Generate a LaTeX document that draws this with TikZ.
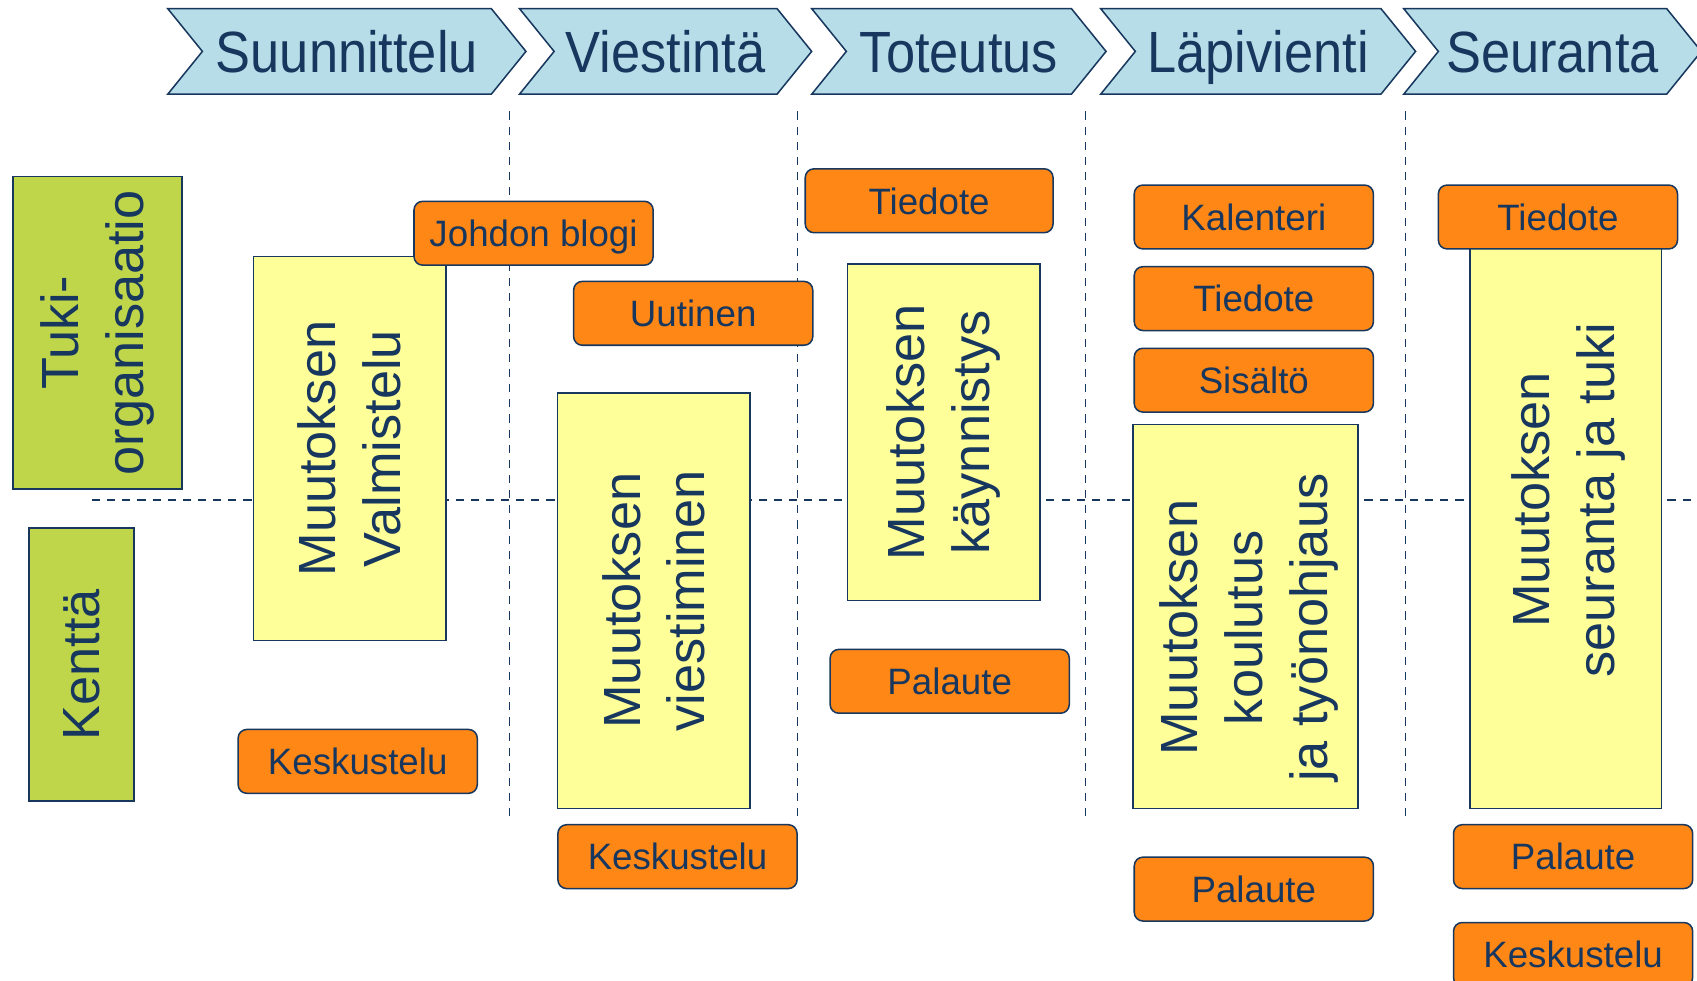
\documentclass[tikz,border=0pt]{standalone}
\usepackage{graphicx}
\usepackage{fontspec}
\setmainfont{Liberation Sans}
\usetikzlibrary{positioning,shapes.symbols}
\definecolor{navy}{HTML}{17375E}
\definecolor{chevblue}{HTML}{B7DEE8}
\definecolor{lanegreen}{HTML}{BFD54A}
\definecolor{paleyel}{HTML}{FFFF99}
\definecolor{orng}{HTML}{FF8716}
\newcommand{\narrow}[1]{\scalebox{0.9}[1]{#1}}
\tikzset{
  phase/.style={shape=signal, signal from=west, signal to=east, signal pointer angle=102, draw=navy, fill=chevblue, line width=0.8pt, minimum height=1.58cm, inner sep=0pt, text=navy, text height=22pt, text depth=0pt, font=\fontsize{30.6}{36}\selectfont},
  tier/.style={draw=navy, fill=lanegreen, line width=0.8pt, rotate=90, align=center, text=navy, inner sep=0pt, font=\fontsize{27.5}{34}\selectfont},
  task/.style={draw=navy, fill=paleyel, line width=0.8pt, rotate=90, align=center, text=navy, inner sep=0pt, font=\fontsize{27.5}{34}\selectfont},
  tool/.style={draw=navy, fill=orng, rounded corners=0.16cm, line width=0.8pt, minimum width=4.42cm, minimum height=1.18cm, inner sep=0pt, text=navy, text height=14pt, text depth=0pt, font=\fontsize{19.3}{23}\selectfont},
  divider/.style={draw=navy, line width=0.6pt, dash pattern=on 0.15cm off 0.13cm},
}
\begin{document}
\begin{tikzpicture}[x=0.02cm, y=-0.02cm]
\useasboundingbox (0,0) rectangle (1568,906);
\clip (0,0) rectangle (1568,906);
% phases
\node[phase, minimum width=6.62cm] (suun) at (320.5,47.5) {\narrow{Suunnittelu}};
\node[phase, minimum width=5.4cm] (viest) at (615,47.5) {\narrow{Viestintä}};
\node[phase, minimum width=5.44cm] (tot) at (886,47.5) {\narrow{Toteutus}};
\node[phase, minimum width=5.82cm] (lapi) at (1162.5,47.5) {\narrow{Läpivienti}};
\node[phase, minimum width=5.5cm] (seuranta) at (1434.5,47.5) {\narrow{Seuranta}};
% lane dividers
\draw[divider] (85,462) -- (1568,462);
\foreach \x in {471,737,1003,1299}
  \draw[divider] (\x,103) -- (\x,755);
% lanes
\node[tier, minimum width=5.78cm, minimum height=3.12cm] (tuki) at (90,307.5) {Tuki-\\organisaatio};
\node[tier, minimum width=5.04cm, minimum height=1.94cm] (kentta) at (75.5,614) {Kenttä};
% tasks
\node[task, minimum width=7.1cm, minimum height=3.56cm] (valm) at (323,414.5) {Muutoksen\\Valmistelu};
\node[task, minimum width=7.68cm, minimum height=3.56cm] (viestim) at (604,555) {Muutoksen\\viestiminen};
\node[task, minimum width=6.22cm, minimum height=3.56cm] (kayn) at (872,399.5) {Muutoksen\\käynnistys};
\node[task, minimum width=7.1cm, minimum height=4.16cm] (koul) at (1151,569.5) {};
\node[task, draw=none, fill=none] (koul-txt) at (1154,580) {Muutoksen\\koulutus\\ja työnohjaus};
\node[task, minimum width=10.44cm, minimum height=3.54cm] (seur) at (1446.5,486) {};
\node[task, draw=none, fill=none] (seur-txt) at (1449,462) {Muutoksen\\seuranta ja tuki};
% tools
\node[tool] (blogi) at (493,215.5) {Johdon blogi};
\node[tool] (uutinen) at (640.5,289.5) {Uutinen};
\node[tool] (kesk1) at (330.5,703.5) {Keskustelu};
\node[tool] (kesk2) at (626,791.5) {Keskustelu};
\node[tool, minimum width=4.58cm] (tied1) at (858.5,185.5) {Tiedote};
\node[tool] (pal1) at (877.5,629.5) {Palaute};
\node[tool] (kal) at (1158.5,200.5) {Kalenteri};
\node[tool, below=0.3cm of kal] (tied2) {Tiedote};
\node[tool, below=0.3cm of tied2] (sis) {Sisältö};
\node[tool] (pal2) at (1158.5,821.5) {Palaute};
\node[tool] (tied3) at (1439.5,200.5) {Tiedote};
\node[tool] (pal3) at (1453.5,791.5) {Palaute};
\node[tool, below=0.6cm of pal3] (kesk3) {Keskustelu};
\end{tikzpicture}
\end{document}
